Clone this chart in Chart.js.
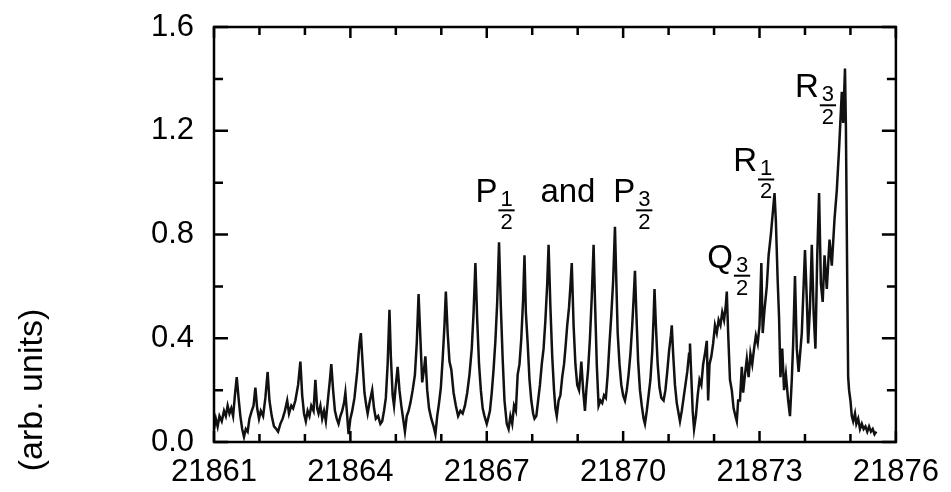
<!DOCTYPE html>
<html>
<head>
<meta charset="utf-8">
<title>spectrum</title>
<script src="https://cdn.jsdelivr.net/npm/chart.js@4.4.1/dist/chart.umd.min.js"></script>
<style>
  html, body { margin: 0; padding: 0; background: #fff; }
</style>
</head>
<body>
<canvas id="spectrum" width="951" height="492"></canvas>
<script>
/* data: wavenumber (cm-1) and intensity (arb. units) */
const waveNumber = [
  21861.00, 21861.04, 21861.08, 21861.12, 21861.17, 21861.22, 21861.26, 21861.30, 21861.34, 21861.38,
  21861.42, 21861.46, 21861.50, 21861.54, 21861.58, 21861.62, 21861.66, 21861.70, 21861.74, 21861.78,
  21861.83, 21861.87, 21861.91, 21861.95, 21861.99, 21862.03, 21862.08, 21862.13, 21862.18, 21862.22,
  21862.27, 21862.32, 21862.37, 21862.41, 21862.46, 21862.51, 21862.56, 21862.61, 21862.65, 21862.70,
  21862.74, 21862.79, 21862.85, 21862.90, 21862.94, 21862.98, 21863.02, 21863.06, 21863.10, 21863.14,
  21863.19, 21863.23, 21863.27, 21863.30, 21863.34, 21863.38, 21863.42, 21863.46, 21863.51, 21863.55,
  21863.58, 21863.62, 21863.66, 21863.70, 21863.74, 21863.78, 21863.82, 21863.86, 21863.89, 21863.93,
  21863.96, 21864.00, 21864.04, 21864.09, 21864.15, 21864.20, 21864.23, 21864.27, 21864.31, 21864.35,
  21864.38, 21864.42, 21864.48, 21864.52, 21864.56, 21864.61, 21864.66, 21864.70, 21864.74, 21864.78,
  21864.82, 21864.86, 21864.89, 21864.93, 21864.96, 21865.00, 21865.04, 21865.08, 21865.12, 21865.16,
  21865.20, 21865.24, 21865.28, 21865.32, 21865.37, 21865.42, 21865.46, 21865.50, 21865.54, 21865.58,
  21865.62, 21865.65, 21865.69, 21865.73, 21865.78, 21865.83, 21865.87, 21865.91, 21865.95, 21865.99,
  21866.03, 21866.07, 21866.10, 21866.14, 21866.18, 21866.22, 21866.27, 21866.32, 21866.37, 21866.42,
  21866.47, 21866.52, 21866.57, 21866.62, 21866.67, 21866.71, 21866.75, 21866.79, 21866.83, 21866.87,
  21866.91, 21866.95, 21867.00, 21867.03, 21867.07, 21867.11, 21867.15, 21867.19, 21867.23, 21867.27,
  21867.31, 21867.35, 21867.39, 21867.44, 21867.48, 21867.52, 21867.56, 21867.60, 21867.64, 21867.68,
  21867.72, 21867.76, 21867.80, 21867.83, 21867.86, 21867.90, 21867.94, 21867.98, 21868.02, 21868.05,
  21868.09, 21868.13, 21868.17, 21868.21, 21868.25, 21868.29, 21868.33, 21868.36, 21868.40, 21868.44,
  21868.48, 21868.51, 21868.54, 21868.58, 21868.62, 21868.66, 21868.70, 21868.73, 21868.77, 21868.81,
  21868.84, 21868.87, 21868.91, 21868.95, 21868.99, 21869.03, 21869.06, 21869.08, 21869.12, 21869.16,
  21869.19, 21869.23, 21869.27, 21869.31, 21869.35, 21869.38, 21869.42, 21869.46, 21869.50, 21869.54,
  21869.58, 21869.62, 21869.66, 21869.70, 21869.74, 21869.78, 21869.82, 21869.85, 21869.88, 21869.92,
  21869.96, 21870.00, 21870.04, 21870.08, 21870.12, 21870.16, 21870.20, 21870.23, 21870.26, 21870.29,
  21870.33, 21870.37, 21870.41, 21870.45, 21870.48, 21870.52, 21870.56, 21870.60, 21870.64, 21870.67,
  21870.69, 21870.72, 21870.76, 21870.80, 21870.84, 21870.89, 21870.93, 21870.97, 21871.01, 21871.05,
  21871.07, 21871.10, 21871.14, 21871.18, 21871.22, 21871.25, 21871.29, 21871.33, 21871.37, 21871.41,
  21871.45, 21871.47, 21871.50, 21871.53, 21871.56, 21871.60, 21871.64, 21871.68, 21871.72, 21871.76,
  21871.80, 21871.84, 21871.87, 21871.90, 21871.94, 21871.98, 21872.02, 21872.06, 21872.10, 21872.14,
  21872.18, 21872.22, 21872.26, 21872.28, 21872.31, 21872.35, 21872.39, 21872.43, 21872.47, 21872.50,
  21872.53, 21872.57, 21872.61, 21872.64, 21872.68, 21872.72, 21872.76, 21872.80, 21872.84, 21872.88,
  21872.92, 21872.96, 21873.00, 21873.04, 21873.07, 21873.11, 21873.16, 21873.20, 21873.25, 21873.30,
  21873.33, 21873.36, 21873.40, 21873.43, 21873.46, 21873.50, 21873.54, 21873.58, 21873.63, 21873.67,
  21873.71, 21873.74, 21873.78, 21873.82, 21873.86, 21873.93, 21874.00, 21874.04, 21874.07, 21874.11,
  21874.15, 21874.19, 21874.23, 21874.27, 21874.31, 21874.35, 21874.39, 21874.43, 21874.48, 21874.54,
  21874.59, 21874.65, 21874.70, 21874.75, 21874.81, 21874.84, 21874.88, 21874.90, 21874.93, 21874.95,
  21874.97, 21875.00, 21875.03, 21875.06, 21875.10, 21875.13, 21875.17, 21875.21, 21875.25, 21875.29,
  21875.33, 21875.37, 21875.41, 21875.45, 21875.49, 21875.53, 21875.57
];
const intensity = [
  0.05, 0.09, 0.06, 0.10, 0.08, 0.12, 0.10, 0.14, 0.11, 0.13,
  0.10, 0.18, 0.25, 0.17, 0.10, 0.05, 0.02, 0.05, 0.04, 0.09,
  0.12, 0.14, 0.21, 0.13, 0.09, 0.12, 0.10, 0.17, 0.27, 0.16,
  0.10, 0.06, 0.05, 0.04, 0.07, 0.09, 0.12, 0.16, 0.11, 0.14,
  0.13, 0.16, 0.22, 0.31, 0.18, 0.11, 0.08, 0.12, 0.10, 0.14,
  0.12, 0.24, 0.13, 0.11, 0.14, 0.09, 0.12, 0.08, 0.17, 0.24,
  0.30, 0.20, 0.12, 0.09, 0.07, 0.10, 0.12, 0.15, 0.19, 0.10,
  0.03, 0.09, 0.12, 0.17, 0.27, 0.38, 0.42, 0.30, 0.19, 0.14,
  0.11, 0.15, 0.20, 0.13, 0.09, 0.10, 0.07, 0.08, 0.12, 0.17,
  0.30, 0.51, 0.33, 0.18, 0.14, 0.22, 0.29, 0.20, 0.14, 0.09,
  0.04, 0.10, 0.12, 0.15, 0.20, 0.26, 0.38, 0.57, 0.40, 0.23,
  0.28, 0.33, 0.20, 0.13, 0.09, 0.06, 0.03, 0.10, 0.15, 0.21,
  0.32, 0.45, 0.58, 0.42, 0.31, 0.28, 0.19, 0.14, 0.10, 0.12,
  0.11, 0.14, 0.19, 0.26, 0.36, 0.50, 0.69, 0.47, 0.30, 0.20,
  0.13, 0.10, 0.07, 0.09, 0.12, 0.19, 0.28, 0.39, 0.54, 0.77,
  0.52, 0.32, 0.16, 0.07, 0.05, 0.10, 0.07, 0.14, 0.12, 0.26,
  0.30, 0.40, 0.55, 0.72, 0.50, 0.38, 0.24, 0.16, 0.11, 0.09,
  0.10, 0.16, 0.22, 0.30, 0.36, 0.47, 0.61, 0.76, 0.52, 0.33,
  0.20, 0.13, 0.10, 0.16, 0.18, 0.25, 0.30, 0.36, 0.45, 0.52,
  0.60, 0.69, 0.45, 0.30, 0.22, 0.20, 0.26, 0.31, 0.20, 0.12,
  0.20, 0.28, 0.40, 0.56, 0.76, 0.55, 0.30, 0.14, 0.16, 0.15,
  0.18, 0.17, 0.26, 0.38, 0.49, 0.62, 0.83, 0.62, 0.42, 0.30,
  0.22, 0.18, 0.16, 0.20, 0.26, 0.34, 0.45, 0.55, 0.66, 0.50,
  0.31, 0.20, 0.14, 0.09, 0.07, 0.12, 0.18, 0.24, 0.35, 0.48,
  0.59, 0.45, 0.30, 0.21, 0.17, 0.16, 0.20, 0.27, 0.35, 0.41,
  0.45, 0.34, 0.22, 0.15, 0.11, 0.08, 0.12, 0.17, 0.22, 0.27,
  0.34, 0.38, 0.25, 0.12, 0.05, 0.10, 0.18, 0.24, 0.22, 0.30,
  0.34, 0.39, 0.16, 0.30, 0.33, 0.38, 0.45, 0.42, 0.47, 0.45,
  0.50, 0.47, 0.53, 0.58, 0.42, 0.24, 0.20, 0.13, 0.10, 0.08,
  0.16, 0.16, 0.29, 0.19, 0.26, 0.32, 0.25, 0.34, 0.30, 0.36,
  0.41, 0.38, 0.45, 0.69, 0.42, 0.51, 0.60, 0.72, 0.80, 0.90,
  0.96, 0.85, 0.62, 0.48, 0.25, 0.36, 0.20, 0.26, 0.16, 0.10,
  0.24, 0.38, 0.64, 0.36, 0.27, 0.42, 0.74, 0.55, 0.38, 0.52,
  0.76, 0.50, 0.36, 0.72, 0.96, 0.61, 0.54, 0.72, 0.59, 0.78,
  0.68, 0.86, 0.97, 1.13, 1.35, 1.23, 1.44, 1.22, 0.61, 0.25,
  0.20, 0.16, 0.10, 0.08, 0.11, 0.07, 0.09, 0.05, 0.07, 0.05,
  0.06, 0.04, 0.06, 0.04, 0.05, 0.03, 0.04
];

/* axis limits and ticks */
const xMin = 21861, xMax = 21876, xStep = 3;
const yMin = 0, yMax = 1.6, yStep = 0.4;
const yTitle = '(arb. units)';

/* line labels: letter, fraction numerator / denominator, anchor in data units */
const peakLabels = [
  { text: 'P', num: '1', den: '2', x: 21866.75, y: 0.924 },
  { text: 'and', x: 21868.18, y: 0.924 },
  { text: 'P', num: '3', den: '2', x: 21869.78, y: 0.924 },
  { text: 'Q', num: '3', den: '2', x: 21871.85, y: 0.672 },
  { text: 'R', num: '1', den: '2', x: 21872.42, y: 1.043 },
  { text: 'R', num: '3', den: '2', x: 21873.78, y: 1.329 }
];

const FONT = "'Liberation Sans', Arial, Helvetica, sans-serif";

/*draws the frame and the inward ticks on all four sides*/
const frameTicks = {
  id: 'frameTicks',
  afterDatasetsDraw(chart) {
    const {ctx, chartArea: a, scales: {x, y}} = chart;
    ctx.save();
    ctx.strokeStyle = '#000';
    ctx.lineWidth = 2.5;
    ctx.strokeRect(a.left, a.top, a.right - a.left, a.bottom - a.top);

    ctx.beginPath();
    for (let v = xMin; v <= xMax; v++) {
      const px = x.getPixelForValue(v);
      const len = (v - xMin) % xStep === 0 ? 11 : 8;
      ctx.moveTo(px, a.bottom); ctx.lineTo(px, a.bottom - len);
      ctx.moveTo(px, a.top); ctx.lineTo(px, a.top + len);
    }
    for (let i = 0; i <= 8; i++) {
      const py = y.getPixelForValue(i * 0.2);
      const len = i % 2 === 0 ? 14 : 9;
      ctx.moveTo(a.left, py); ctx.lineTo(a.left + len, py);
      ctx.moveTo(a.right, py); ctx.lineTo(a.right - len, py);
    }
    ctx.stroke();
    ctx.restore();
  }
};

/*draws the branch labels with their small fractions, and the y title*/
const branchLabels = {
  id: 'branchLabels',
  afterDraw(chart) {
    const {ctx, scales: {x, y}} = chart;
    ctx.save();
    ctx.fillStyle = '#000';
    ctx.strokeStyle = '#000';
    ctx.textBaseline = 'alphabetic';
    ctx.textAlign = 'left';

    peakLabels.forEach((lab) => {
      const px = x.getPixelForValue(lab.x);
      const py = y.getPixelForValue(lab.y);
      ctx.font = '33px ' + FONT;
      ctx.fillText(lab.text, px, py);
      if (!lab.num) return;

      const fx = px + ctx.measureText(lab.text).width + 1;
      ctx.font = '22px ' + FONT;
      const w = Math.max(ctx.measureText(lab.num).width, ctx.measureText(lab.den).width) + 4;
      ctx.textAlign = 'center';
      ctx.fillText(lab.num, fx + w / 2, py + 4);
      ctx.fillText(lab.den, fx + w / 2, py + 27);
      ctx.textAlign = 'left';
      ctx.lineWidth = 2;
      ctx.beginPath();
      ctx.moveTo(fx, py + 8);
      ctx.lineTo(fx + w, py + 8);
      ctx.stroke();
    });

    // y title sits low, beside the lower half of the axis
    ctx.translate(33, 390);
    ctx.rotate(-Math.PI / 2);
    ctx.font = '34px ' + FONT;
    ctx.textAlign = 'center';
    ctx.textBaseline = 'middle';
    ctx.fillText(yTitle, 0, 0);
    ctx.restore();
  }
};

const points = waveNumber.map((w, i) => ({x: w, y: intensity[i]}));

new Chart(document.getElementById('spectrum'), {
  type: 'line',
  data: {
    datasets: [{
      data: points,
      borderColor: '#111',
      borderWidth: 2.5,
      pointRadius: 0,
      tension: 0,
      fill: false
    }]
  },
  options: {
    responsive: false,
    animation: false,
    layout: { padding: { top: 27, right: 55, left: 0, bottom: 0 } },
    scales: {
      x: {
        type: 'linear',
        min: xMin,
        max: xMax,
        afterFit: (s) => { s.height = 50; },
        grid: { display: false, drawTicks: false },
        border: { display: false },
        ticks: {
          stepSize: xStep,
          padding: 12,
          color: '#000',
          font: { family: FONT, size: 31 },
          maxRotation: 0,
          callback: (v) => String(v)
        }
      },
      y: {
        min: yMin,
        max: yMax,
        // fixed width, and no extra label padding pushing the plot top down
        afterFit: (s) => { s.width = 214; s.paddingTop = 0; s.paddingBottom = 0; },
        grid: { display: false, drawTicks: false },
        border: { display: false },
        ticks: {
          stepSize: yStep,
          padding: 20,
          color: '#000',
          font: { family: FONT, size: 31 },
          callback: (v) => v.toFixed(1)
        }
      }
    },
    plugins: {
      legend: { display: false },
      tooltip: { enabled: false }
    }
  },
  plugins: [frameTicks, branchLabels]
});
</script>
</body>
</html>
